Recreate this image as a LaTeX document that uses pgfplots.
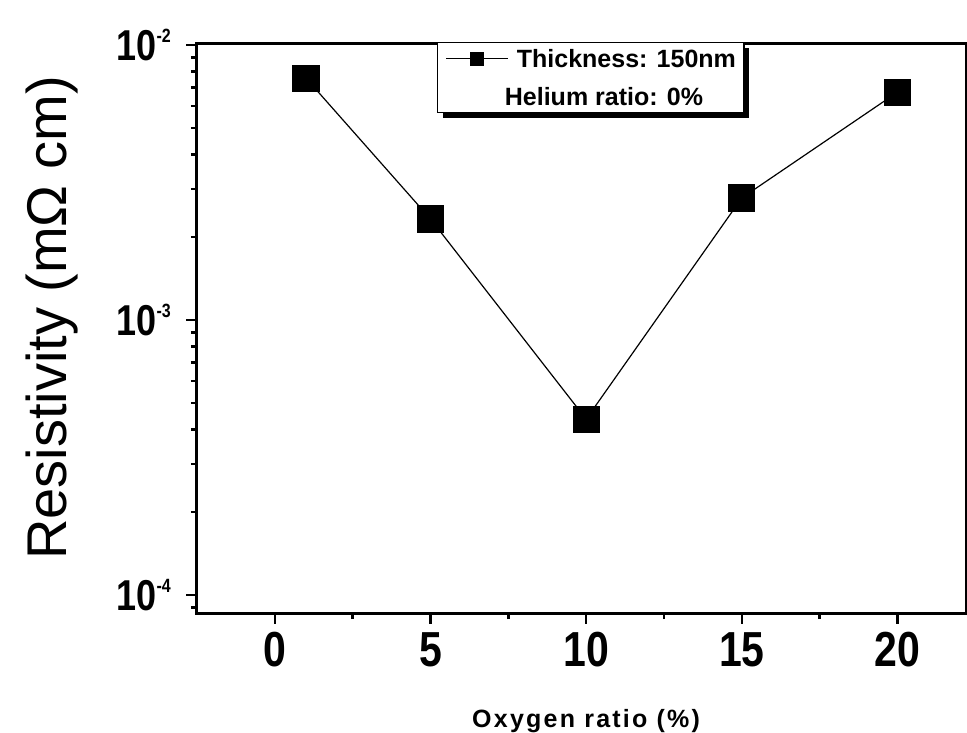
\documentclass[border=0pt]{standalone}
\usepackage{pgfplots}
\pgfplotsset{compat=1.18}
\usepackage{fontspec}
\setmainfont{Liberation Sans}
\newfontfamily\xlabfont[LetterSpace=9]{Liberation Sans}
\usetikzlibrary{shadows}
\makeatletter
\tikzset{no preactions/.code={\def\tikz@preactions{}}}
\makeatother
\newcommand{\ylab}[1]{\scalebox{1}[1.2]{\fontsize{36}{36}\selectfont\bfseries 10\raisebox{15pt}{\fontsize{16}{16}\selectfont -#1}}}
\begin{document}
\begin{tikzpicture}
\useasboundingbox (0,0) rectangle (967pt,733pt);
\begin{axis}[
  at={(197pt,120pt)}, anchor=south west,
  scale only axis, width=769pt, height=570pt,
  ymode=log,
  xmin=-2.5, xmax=22.2, ymin=8.6e-5, ymax=1.017e-2,
  axis line style={line width=3pt},
  tick align=outside, tick pos=left,
  xtick={0,5,10,15,20}, minor x tick num=1,
  ytick={1e-4,1e-3,1e-2},
  yticklabels={\ylab{4},\ylab{3},\ylab{2}},
  minor ytick={9e-5,2e-4,3e-4,4e-4,5e-4,6e-4,7e-4,8e-4,9e-4,2e-3,3e-3,4e-3,5e-3,6e-3,7e-3,8e-3,9e-3},
  major tick length=11pt, minor tick length=6pt,
  every tick/.append style={line width=2.5pt, black},
  /pgf/number format/assume math mode=true,
  xticklabel={\scalebox{1}[1.2]{\pgfmathprintnumber{\tick}}},
  xticklabel style={font=\bfseries\fontsize{41}{41}\selectfont, inner sep=0pt, yshift=-8pt},
  yticklabel style={inner sep=0pt, xshift=-15pt},
  xlabel={Oxygen ratio (\%)},
  xlabel style={font=\xlabfont\bfseries\fontsize{25}{25}\selectfont, at={(axis description cs:0.506,-0.2)}, anchor=base, inner sep=0pt},
  ylabel={Resistivity (mΩ cm)},
  ylabel style={font=\fontsize{56}{56}\selectfont, at={(axis description cs:-0.1886,0.5175)}, anchor=center, inner sep=0pt},
  legend style={at={(axis description cs:0.312,1.002)}, anchor=north west,
    draw=black, line width=1.5pt, fill=white,
    drop shadow={shadow xshift=5pt, shadow yshift=-5pt, fill=black, opacity=1},
    font=\bfseries\fontsize{25}{25}\selectfont,
    inner xsep=8pt, inner ysep=7pt, column sep=8pt, row sep=20pt,
    nodes={inner sep=0pt, text height=18pt, text depth=0pt}},
  legend cell align=left,
  legend image code/.code={%
    \draw[no preactions, black, line width=1.2pt] (0pt,0pt) -- (62pt,0pt);
    \draw[no preactions, black, only marks, mark size=6.5pt] plot[mark=square*] coordinates {(31pt,0pt)};},
]
\addplot[black, line width=1.2pt, mark=square*, mark size=13pt, mark options={solid, fill=black}]
  coordinates {(1,7.58e-3) (5,2.33e-3) (10,4.36e-4) (15,2.78e-3) (20,6.74e-3)};
\addlegendentry{Thickness: 150nm}
\addlegendimage{empty legend}
\addlegendentry{\hspace*{-12pt}Helium ratio: 0\%}
\end{axis}
\end{tikzpicture}
\end{document}
